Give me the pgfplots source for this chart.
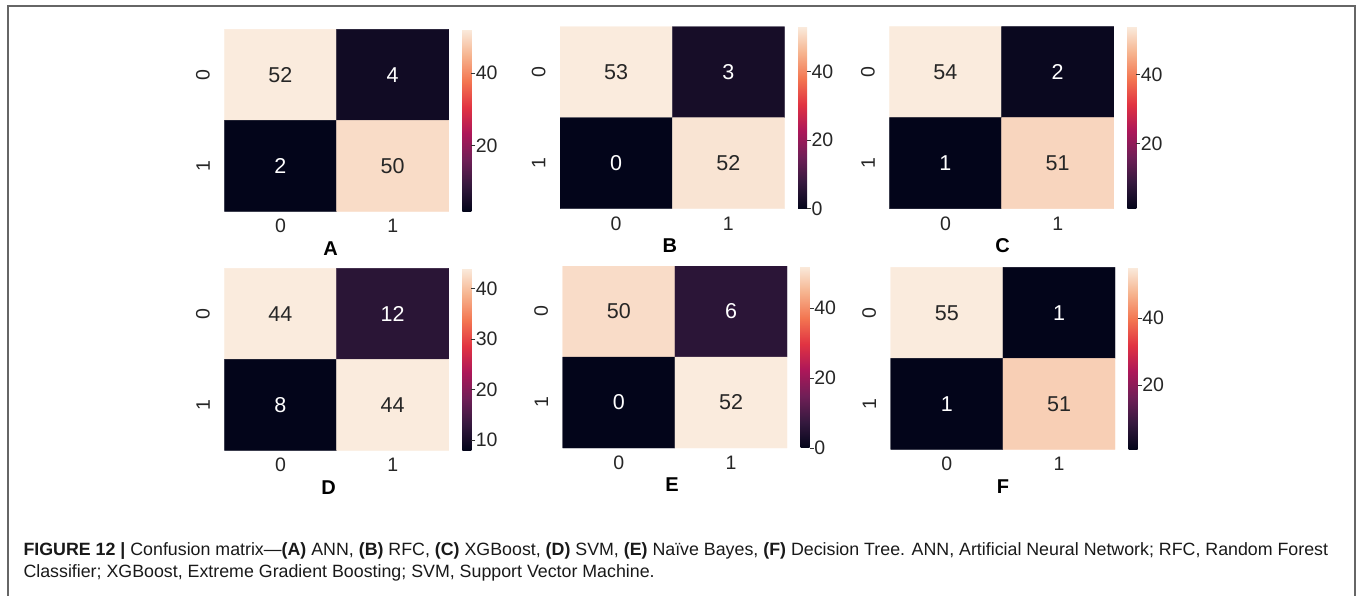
\documentclass[border=0pt]{standalone}
\usepackage{fontspec}
\setmainfont{Liberation Sans}
\usepackage{pgfplots}
\pgfplotsset{compat=1.18}
\definecolor{cdark}{HTML}{262626}
\newcommand\cellfont{\fontsize{21.5}{21.5}\selectfont}
\pgfplotsset{
  colormap={rocket}{rgb255=(3,5,26) rgb255=(53,25,62) rgb255=(112,31,87) rgb255=(173,23,89) rgb255=(225,51,66) rgb255=(243,118,81) rgb255=(246,180,143) rgb255=(250,235,221)},
  cmat/.style={
    scale only axis, width=224.5pt, height=182pt,
    anchor=north west,
    xmin=-0.5, xmax=1.5, ymin=-0.5, ymax=1.5, y dir=reverse,
    xtick={0,1}, ytick={0,1},
    axis line style={draw=none}, major tick length=0pt,
    /pgf/number format/assume math mode=true,
    tick label style={font=\fontsize{19.5}{19.5}\selectfont, text=cdark},
    xticklabel style={yshift=-4.5pt},
    yticklabel style={xshift=-11pt, rotate=90, anchor=south},
    xlabel style={at={(axis description cs:0.5,0)}, anchor=center, yshift=-37pt, font=\bfseries\fontsize{20}{20}\selectfont},
    colormap name=rocket,
    colorbar,
    colorbar style={scale only axis, width=9pt, height=182pt,
      at={(parent axis.north east)}, anchor=north west, xshift=5pt,
      axis line style={draw=none}, ytick pos=right, yticklabel pos=right,
      tick align=outside, major tick length=4pt,
      tick style={black!80, line width=0.7pt},
      /pgf/number format/assume math mode=true,
      yticklabel style={font=\fontsize{19.5}{19.5}\selectfont, text=cdark, xshift=-3pt}},
  },
  celltxt/.style={only marks, mark=none, point meta=explicit symbolic, nodes near coords,
    nodes near coords style={anchor=center, font=\cellfont, text=#1}},
}
\begin{document}
\begin{tikzpicture}
\path[use as bounding box] (0pt,0pt) rectangle (1360pt,-596pt);
\draw[line width=1.5pt, color=black!60] (8pt,-610pt) -- (8pt,-6pt) -- (1355pt,-6pt) -- (1355pt,-610pt);

% A
\begin{axis}[cmat, at={(224.3pt,-29.3pt)}, point meta min=2, point meta max=52,
  colorbar style={ytick={20,40}}, xlabel={A}, xlabel style={xshift=-6pt}]
\addplot[matrix plot*, mesh/cols=2, point meta=explicit] table[meta=c]{
x y c
0 0 52
1 0 4
0 1 2
1 1 50
};
\addplot[celltxt=cdark] table[meta=l]{
x y l
0 0 52
1 1 50
};
\addplot[celltxt=white] table[meta=l]{
x y l
1 0 4
0 1 2
};
\end{axis}

% B
\begin{axis}[cmat, at={(560pt,-26.7pt)}, point meta min=0, point meta max=53,
  colorbar style={ytick={0,20,40}}, xlabel={B}, xlabel style={xshift=-2.5pt}]
\addplot[matrix plot*, mesh/cols=2, point meta=explicit] table[meta=c]{
x y c
0 0 53
1 0 3
0 1 0
1 1 52
};
\addplot[celltxt=cdark] table[meta=l]{
x y l
0 0 53
1 1 52
};
\addplot[celltxt=white] table[meta=l]{
x y l
1 0 3
0 1 0
};
\end{axis}

% C
\begin{axis}[cmat, at={(889.3pt,-26.7pt)}, point meta min=1, point meta max=54,
  colorbar style={ytick={20,40}}, xlabel={C}, xlabel style={xshift=1pt}]
\addplot[matrix plot*, mesh/cols=2, point meta=explicit] table[meta=c]{
x y c
0 0 54
1 0 2
0 1 1
1 1 51
};
\addplot[celltxt=cdark] table[meta=l]{
x y l
0 0 54
1 1 51
};
\addplot[celltxt=white] table[meta=l]{
x y l
1 0 2
0 1 1
};
\end{axis}

% D
\begin{axis}[cmat, at={(224.3pt,-268.3pt)}, point meta min=8, point meta max=44,
  colorbar style={ytick={10,20,30,40}}, xlabel={D}, xlabel style={xshift=-8pt}]
\addplot[matrix plot*, mesh/cols=2, point meta=explicit] table[meta=c]{
x y c
0 0 44
1 0 12
0 1 8
1 1 44
};
\addplot[celltxt=cdark] table[meta=l]{
x y l
0 0 44
1 1 44
};
\addplot[celltxt=white] table[meta=l]{
x y l
1 0 12
0 1 8
};
\end{axis}

% E
\begin{axis}[cmat, at={(562.7pt,-266pt)}, point meta min=0, point meta max=52,
  colorbar style={ytick={0,20,40}}, xlabel={E}, xlabel style={xshift=-3pt}]
\addplot[matrix plot*, mesh/cols=2, point meta=explicit] table[meta=c]{
x y c
0 0 50
1 0 6
0 1 0
1 1 52
};
\addplot[celltxt=cdark] table[meta=l]{
x y l
0 0 50
1 1 52
};
\addplot[celltxt=white] table[meta=l]{
x y l
1 0 6
0 1 0
};
\end{axis}

% F
\begin{axis}[cmat, at={(890.7pt,-267.3pt)}, point meta min=1, point meta max=55,
  colorbar style={ytick={20,40}}, xlabel={F}, xlabel style={xshift=0pt}]
\addplot[matrix plot*, mesh/cols=2, point meta=explicit] table[meta=c]{
x y c
0 0 55
1 0 1
0 1 1
1 1 51
};
\addplot[celltxt=cdark] table[meta=l]{
x y l
0 0 55
1 1 51
};
\addplot[celltxt=white] table[meta=l]{
x y l
1 0 1
0 1 1
};
\end{axis}

\node[anchor=base west, inner sep=0pt, font=\fontsize{17.8}{20}\selectfont, text=black!90] at (23.3pt,-555pt)
  {\textbf{FIGURE 12 |} Confusion matrix—\textbf{(A)} ANN, \textbf{(B)} RFC, \textbf{(C)} XGBoost, \textbf{(D)} SVM, \textbf{(E)} Naïve Bayes, \textbf{(F)} Decision Tree. ANN, Artificial Neural Network; RFC, Random Forest};
\node[anchor=base west, inner sep=0pt, font=\fontsize{17.8}{20}\selectfont, text=black!90] at (23.3pt,-577pt)
  {Classifier; XGBoost, Extreme Gradient Boosting; SVM, Support Vector Machine.};
\end{tikzpicture}
\end{document}
